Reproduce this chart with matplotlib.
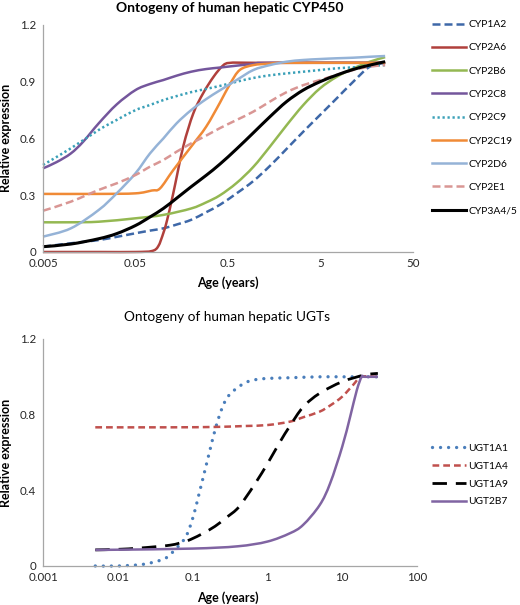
import numpy as np
import matplotlib
matplotlib.use("Agg")
from matplotlib import pyplot as plt
from matplotlib.path import Path
from matplotlib.patches import PathPatch
from matplotlib.lines import Line2D

plt.rcParams['font.family'] = ['Lato', 'DejaVu Sans']

# ---- CYP450 panel data (age in years, relative expression) ----
cyp_ticks = [0.005, 0.05, 0.5, 5, 50]
cyp_tick_labels = ['0.005', '0.05', '0.5', '5', '50']
cyp_yticks = [0, 0.3, 0.6, 0.9, 1.2]
cyp_ytick_labels = ['0', '0.3', '0.6', '0.9', '1.2']

cyp1a2_age = [0.005, 0.01, 0.02, 0.0313, 0.05, 0.0717, 0.1, 0.139, 0.2, 0.29, 0.41, 0.62, 0.94, 1.42, 2.15, 3.26, 4.94, 7.48, 11.3, 17.1, 25]
cyp1a2_val = [0.028, 0.046, 0.063, 0.08, 0.099, 0.113, 0.125, 0.145, 0.17, 0.21, 0.25, 0.31, 0.375, 0.455, 0.545, 0.636, 0.724, 0.812, 0.90, 0.98, 1.0]

cyp2a6_age = [0.005, 0.02, 0.05, 0.075, 0.088, 0.1, 0.11, 0.128, 0.164, 0.211, 0.27, 0.35, 0.44, 0.53, 1.0, 25]
cyp2a6_val = [0.0, 0.0, 0.0, 0.005, 0.03, 0.1, 0.17, 0.31, 0.557, 0.733, 0.84, 0.927, 0.985, 1.0, 1.0, 1.0]

cyp2b6_age = [0.005, 0.01, 0.02, 0.05, 0.1, 0.2, 0.29, 0.41, 0.62, 0.94, 1.42, 2.15, 3.26, 4.94, 7.48, 11.3, 17.1, 25]
cyp2b6_val = [0.157, 0.157, 0.16, 0.178, 0.196, 0.23, 0.262, 0.30, 0.365, 0.45, 0.557, 0.67, 0.777, 0.865, 0.926, 0.97, 1.006, 1.03]

cyp2c8_age = [0.005, 0.007, 0.01, 0.0136, 0.02, 0.0313, 0.05, 0.0717, 0.1, 0.139, 0.2, 0.29, 0.41, 0.62, 0.94, 1.42, 25]
cyp2c8_val = [0.442, 0.475, 0.521, 0.583, 0.68, 0.78, 0.856, 0.888, 0.909, 0.932, 0.953, 0.967, 0.975, 0.985, 0.994, 1.0, 1.0]

cyp2c9_age = [0.005, 0.01, 0.02, 0.0313, 0.05, 0.0717, 0.1, 0.139, 0.2, 0.29, 0.41, 0.62, 0.94, 1.42, 2.15, 3.26, 4.94, 7.48, 11.3, 17.1, 25]
cyp2c9_val = [0.46, 0.548, 0.645, 0.698, 0.75, 0.777, 0.803, 0.824, 0.845, 0.862, 0.878, 0.90, 0.92, 0.934, 0.944, 0.953, 0.962, 0.971, 0.976, 0.983, 0.988]

cyp2c19_age = [0.005, 0.02, 0.05, 0.075, 0.092, 0.128, 0.2, 0.29, 0.41, 0.53, 0.67, 0.94, 1.42, 2.15, 25]
cyp2c19_val = [0.307, 0.307, 0.31, 0.325, 0.336, 0.433, 0.557, 0.662, 0.79, 0.891, 0.962, 0.988, 0.996, 1.0, 1.0]

cyp2d6_age = [0.005, 0.01, 0.02, 0.0313, 0.05, 0.0717, 0.1, 0.139, 0.2, 0.29, 0.41, 0.62, 0.94, 1.42, 2.15, 3.26, 4.94, 7.48, 11.3, 17.1, 25]
cyp2d6_val = [0.081, 0.125, 0.222, 0.31, 0.416, 0.521, 0.60, 0.68, 0.75, 0.808, 0.855, 0.909, 0.962, 0.988, 1.006, 1.015, 1.02, 1.024, 1.027, 1.032, 1.036]

cyp2e1_age = [0.005, 0.01, 0.02, 0.0313, 0.05, 0.0717, 0.1, 0.139, 0.2, 0.29, 0.41, 0.62, 0.94, 1.42, 2.15, 3.26, 4.94, 7.48, 11.3, 17.1, 25]
cyp2e1_val = [0.218, 0.266, 0.328, 0.363, 0.407, 0.451, 0.486, 0.53, 0.574, 0.615, 0.655, 0.698, 0.742, 0.795, 0.845, 0.882, 0.909, 0.936, 0.962, 0.98, 0.988]

cyp3a4_age = [0.005, 0.01, 0.02, 0.0313, 0.05, 0.0717, 0.1, 0.139, 0.2, 0.29, 0.41, 0.62, 0.94, 1.42, 2.15, 3.26, 4.94, 7.48, 11.3, 17.1, 25]
cyp3a4_val = [0.028, 0.042, 0.07, 0.097, 0.14, 0.185, 0.23, 0.284, 0.345, 0.405, 0.465, 0.545, 0.63, 0.715, 0.795, 0.856, 0.90, 0.935, 0.965, 0.988, 1.006]

# ---- UGT panel data ----
ugt_ticks = [0.001, 0.01, 0.1, 1, 10, 100]
ugt_tick_labels = ['0.001', '0.01', '0.1', '1', '10', '100']
ugt_yticks = [0, 0.4, 0.8, 1.2]
ugt_ytick_labels = ['0', '0.4', '0.8', '1.2']

ugt1a1_age = [0.005, 0.01, 0.02, 0.03, 0.043, 0.055, 0.08, 0.1, 0.12, 0.145, 0.17, 0.2, 0.24, 0.29, 0.39, 0.55, 0.87, 2, 5, 10, 20, 30]
ugt1a1_val = [0.0, 0.0, 0.007, 0.02, 0.04, 0.076, 0.15, 0.25, 0.37, 0.5, 0.61, 0.72, 0.82, 0.89, 0.94, 0.975, 0.99, 0.995, 1.0, 1.0, 1.0, 1.0]

ugt1a4_age = [0.005, 0.05, 0.2, 0.5, 1, 2, 3, 5, 7, 10, 14, 18, 30]
ugt1a4_val = [0.733, 0.733, 0.735, 0.74, 0.745, 0.763, 0.786, 0.816, 0.85, 0.895, 0.957, 1.0, 1.0]

ugt1a9_age = [0.005, 0.01, 0.02, 0.05, 0.08, 0.1, 0.137, 0.2, 0.27, 0.39, 0.5, 0.71, 1, 1.47, 2, 3, 5, 10, 20, 30]
ugt1a9_val = [0.085, 0.088, 0.095, 0.11, 0.13, 0.145, 0.172, 0.21, 0.25, 0.30, 0.355, 0.445, 0.54, 0.655, 0.74, 0.84, 0.913, 0.974, 1.01, 1.018]

ugt2b7_age = [0.005, 0.01, 0.1, 0.4, 1, 2, 3, 5, 6.9, 10, 12.8, 15.7, 18.2, 20, 30]
ugt2b7_val = [0.085, 0.086, 0.092, 0.104, 0.129, 0.173, 0.217, 0.322, 0.437, 0.63, 0.79, 0.93, 1.0, 1.0, 1.0]


def smooth_curve(ax, xs, ys, capstyle='butt', **kw):
    # Excel-style smoothed line: Catmull-Rom bezier in (log10 x, y) space
    u = np.log10(xs)
    y = np.asarray(ys, dtype=float)
    n = len(u)
    verts = [(xs[0], ys[0])]
    codes = [Path.MOVETO]
    for i in range(n - 1):
        i0 = max(i - 1, 0)
        i3 = min(i + 2, n - 1)
        c1 = (u[i] + (u[i + 1] - u[i0]) / 6, y[i] + (y[i + 1] - y[i0]) / 6)
        c2 = (u[i + 1] - (u[i3] - u[i]) / 6, y[i + 1] - (y[i3] - y[i]) / 6)
        verts += [(10 ** c1[0], c1[1]), (10 ** c2[0], c2[1]), (xs[i + 1], ys[i + 1])]
        codes += [Path.CURVE4] * 3
    patch = PathPatch(Path(verts, codes), fill=False, clip_on=False, **kw)
    patch.set_capstyle(capstyle)
    patch.set_joinstyle('round')
    ax.add_patch(patch)
    return Line2D([], [], color=kw.get('edgecolor'), lw=kw.get('lw'),
                  linestyle=kw.get('linestyle', '-'), dash_capstyle=capstyle)


def style_axis(ax, xlim, xticks, xlabels, yticks, ylabels):
    ax.set_xscale('log')
    ax.set_xlim(*xlim)
    ax.set_ylim(0, 1.2)
    ax.set_xticks(xticks)
    ax.set_xticklabels(xlabels)
    ax.xaxis.set_minor_locator(matplotlib.ticker.NullLocator())
    ax.set_yticks(yticks)
    ax.set_yticklabels(ylabels)
    for s in ['top', 'right']:
        ax.spines[s].set_visible(False)
    for s in ['left', 'bottom']:
        ax.spines[s].set_color('#a6a6a6')
        ax.spines[s].set_linewidth(0.9)
    ax.tick_params(length=0, labelsize=8.3, colors='#262626')
    ax.tick_params(axis='y', pad=5)
    ax.tick_params(axis='x', pad=4.5)


fig = plt.figure(figsize=(5.2, 6.05), dpi=100)
ax1 = fig.add_axes([0.0827, 0.5835, 0.7115, 0.3752])
ax2 = fig.add_axes([0.0827, 0.0645, 0.7192, 0.3752])

style_axis(ax1, (0.005, 50), cyp_ticks, cyp_tick_labels, cyp_yticks, cyp_ytick_labels)
style_axis(ax2, (0.001, 100), ugt_ticks, ugt_tick_labels, ugt_yticks, ugt_ytick_labels)

lw = 1.8
h1 = []
h1.append(smooth_curve(ax1, cyp1a2_age, cyp1a2_val, edgecolor='#3e68a8', lw=lw, linestyle=(0, (3.2, 1.6))))
h1.append(smooth_curve(ax1, cyp2a6_age, cyp2a6_val, edgecolor='#b0403c', lw=lw))
h1.append(smooth_curve(ax1, cyp2b6_age, cyp2b6_val, edgecolor='#94b852', lw=lw))
h1.append(smooth_curve(ax1, cyp2c8_age, cyp2c8_val, edgecolor='#74569c', lw=lw))
h1.append(smooth_curve(ax1, cyp2c9_age, cyp2c9_val, edgecolor='#3aa0b8', lw=lw, linestyle=(0, (0.9, 1.1))))
h1.append(smooth_curve(ax1, cyp2c19_age, cyp2c19_val, edgecolor='#f08a36', lw=lw))
h1.append(smooth_curve(ax1, cyp2d6_age, cyp2d6_val, edgecolor='#95b3d7', lw=lw))
h1.append(smooth_curve(ax1, cyp2e1_age, cyp2e1_val, edgecolor='#d99694', lw=lw, linestyle=(0, (3.2, 1.6))))
h1.append(smooth_curve(ax1, cyp3a4_age, cyp3a4_val, edgecolor='black', lw=2.2))
names1 = ['CYP1A2', 'CYP2A6', 'CYP2B6', 'CYP2C8', 'CYP2C9', 'CYP2C19', 'CYP2D6', 'CYP2E1', 'CYP3A4/5']

h2 = []
h2.append(smooth_curve(ax2, ugt1a1_age, ugt1a1_val, capstyle='round', edgecolor='#4a7ebb', lw=2.4, linestyle=(0, (0.01, 2.4))))
h2.append(smooth_curve(ax2, ugt1a4_age, ugt1a4_val, edgecolor='#c0504d', lw=lw, linestyle=(0, (2.7, 1.6))))
h2.append(smooth_curve(ax2, ugt1a9_age, ugt1a9_val, edgecolor='black', lw=2.0, linestyle=(0, (5.2, 3.2))))
h2.append(smooth_curve(ax2, ugt2b7_age, ugt2b7_val, edgecolor='#8064a2', lw=lw))
names2 = ['UGT1A1', 'UGT1A4', 'UGT1A9', 'UGT2B7']

fig.legend(h1, names1, loc='upper left', bbox_to_anchor=(0.83, 0.967), frameon=False,
           fontsize=7.4, handlelength=3.3, handletextpad=0.25, labelspacing=1.37,
           borderpad=0, borderaxespad=0)
fig.legend(h2, names2, loc='upper left', bbox_to_anchor=(0.83, 0.267), frameon=False,
           fontsize=7.4, handlelength=3.3, handletextpad=0.25, labelspacing=0.85,
           borderpad=0, borderaxespad=0)

fig.text(0.442, 0.987, 'Ontogeny of human hepatic CYP450', ha='center', va='center',
         fontsize=10, fontweight='bold')
fig.text(0.437, 0.476, 'Ontogeny of human hepatic UGTs', ha='center', va='center', fontsize=9.8)
fig.text(0.438, 0.532, 'Age (years)', ha='center', va='center', fontsize=9, fontweight='bold')
fig.text(0.438, 0.012, 'Age (years)', ha='center', va='center', fontsize=9, fontweight='bold')
fig.text(0.012, 0.772, 'Relative expression', ha='center', va='center', rotation=90,
         fontsize=9, fontweight='bold')
fig.text(0.012, 0.252, 'Relative expression', ha='center', va='center', rotation=90,
         fontsize=9, fontweight='bold')

fig.savefig('out.png', dpi=100)
